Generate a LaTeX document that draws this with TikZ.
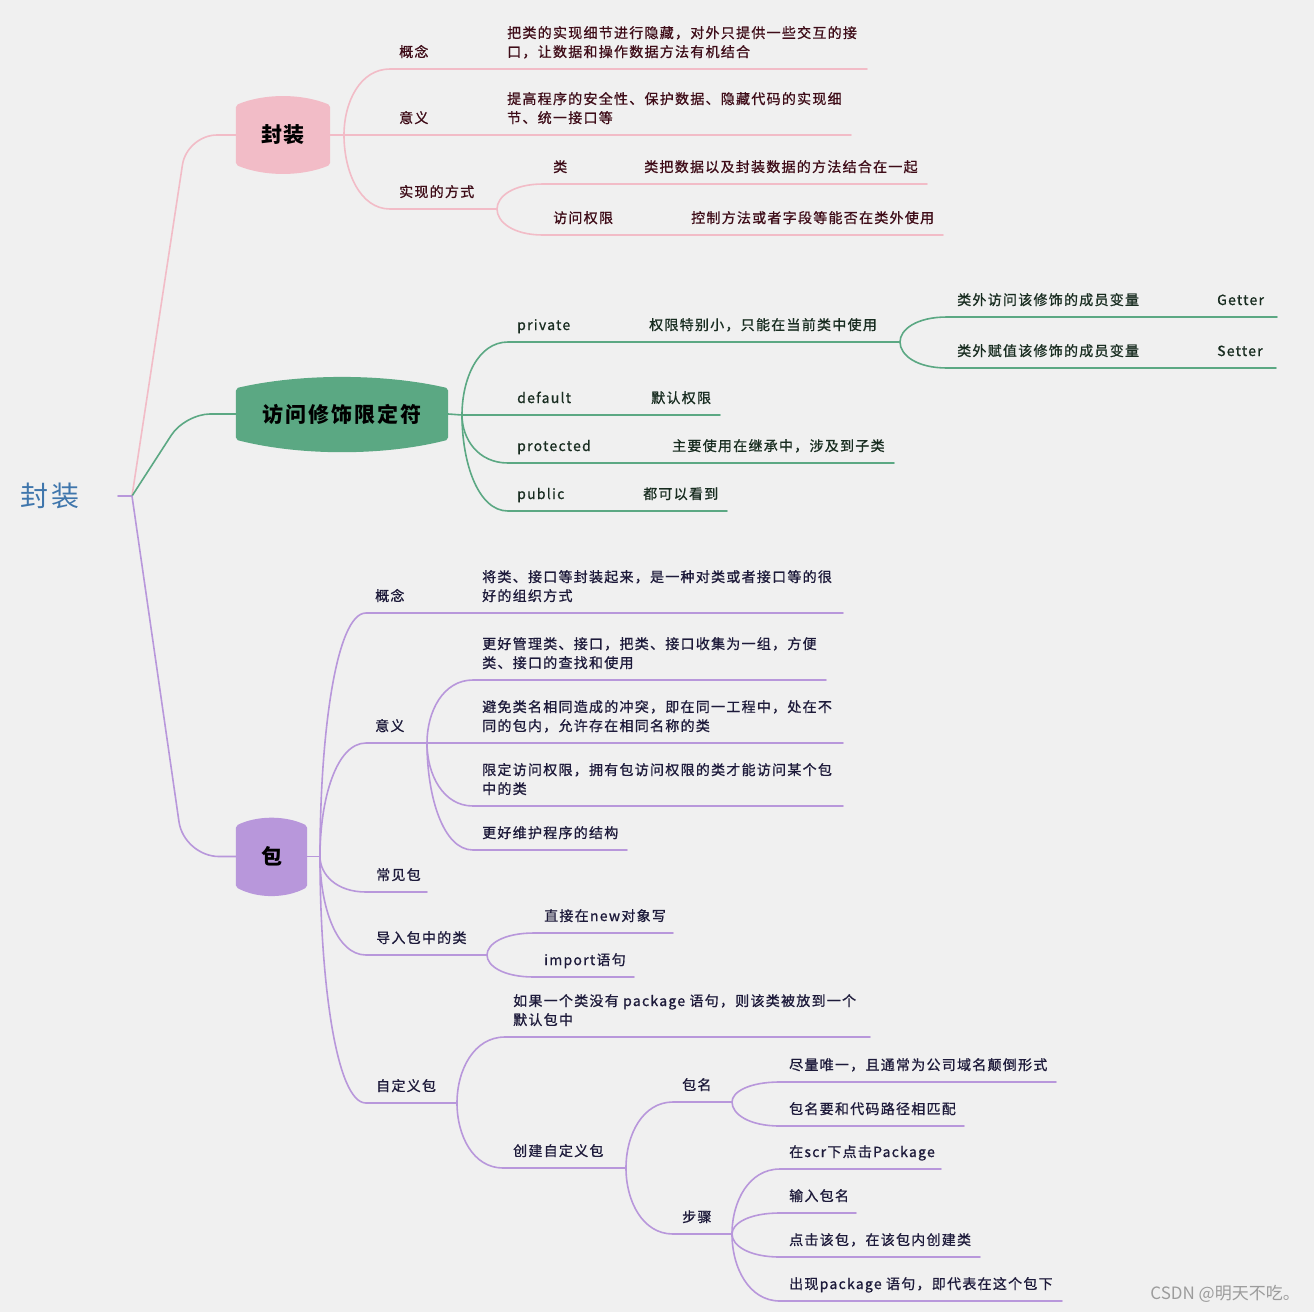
\documentclass[tikz,border=0pt]{standalone}
\usepackage{fontspec}
\usetikzlibrary{calc}
\newfontfamily\cjk[LetterSpace=9, FakeBold=0.9]{Noto Sans CJK SC}
\newfontfamily\cjkh[LetterSpace=9]{Noto Sans CJK SC}
\newfontfamily\wmfont{Noto Sans CJK SC}
\definecolor{bgc}{HTML}{F0F0F0}
\definecolor{pk}{HTML}{F2BCC7}
\definecolor{gr}{HTML}{5BA883}
\definecolor{pu}{HTML}{B897DB}
\definecolor{tpkc}{HTML}{3E0C18}
\definecolor{tgrc}{HTML}{182C20}
\definecolor{tpuc}{HTML}{1D1A3A}
\definecolor{rootc}{HTML}{3F76AC}
\definecolor{wmc}{HTML}{9C9C9C}
\pgfdeclarelayer{bgl}
\pgfdeclarelayer{blobl}
\pgfsetlayers{bgl,blobl,main}
\newcommand\ml[1]{\begin{tabular}[b]{@{}l@{}}#1\end{tabular}}
\newcommand\kid[4]{\draw[#1] (#2) .. controls ($(#2)!0.5!(#2 |- #3)$) and ($(#2 |- #3)!0.35!(#3)$) .. (#3) -- (#4);}
\newcommand\blob[4]{%
\begin{pgfonlayer}{blobl}
\fill[#2] ($(#1.north west)+(0,3)$) -- ($(#1.north west)+(2,0)$)
 .. controls ($(#1.north west)!0.3!(#1.north east)+(0,-#3)$) and ($(#1.north west)!0.7!(#1.north east)+(0,-#3)$) .. ($(#1.north east)+(-2,0)$)
 -- ($(#1.north east)+(0,3)$) -- ($(#1.south east)+(0,-3)$) -- ($(#1.south east)+(-2,0)$)
 .. controls ($(#1.south west)!0.7!(#1.south east)+(0,#4)$) and ($(#1.south west)!0.3!(#1.south east)+(0,#4)$) .. ($(#1.south west)+(2,0)$)
 -- ($(#1.south west)+(0,-3)$) -- cycle;
\end{pgfonlayer}}
\tikzset{
 lbl/.style={anchor=base west, inner sep=0pt, font=\cjk\fontsize{14}{19}\selectfont},
 tpk/.style={lbl, text=tpkc},
 tgr/.style={lbl, text=tgrc},
 tpu/.style={lbl, text=tpuc},
 hub/.style={inner sep=0pt, text=black, font=\cjkh\bfseries\fontsize{21}{24}\selectfont},
 pkl/.style={draw=pk, line width=1.6pt, line cap=round},
 grl/.style={draw=gr, line width=1.6pt, line cap=round},
 pul/.style={draw=pu, line width=1.6pt, line cap=round},
}
\begin{document}
\begin{tikzpicture}[x=1pt,y=-1pt]
\begin{pgfonlayer}{bgl}
\fill[bgc] (0,0) rectangle (1314,1312);
\end{pgfonlayer}
\useasboundingbox (0,0) rectangle (1314,1312);

% root
\node[inner sep=0pt, text=rootc, font=\cjkh\fontsize{28}{30}\selectfont] (root) at (50,496) {封装};
\coordinate (rs) at (118,496);
\coordinate (rf) at (132,496);
\draw[pul] (rs) -- (rf);

% hubs
\node[hub, minimum width=94pt, minimum height=61pt] (n1) at (283,135) {封装};
\node[hub, minimum width=212pt, minimum height=52pt] (n2) at (342,414) {访问修饰限定符};
\node[hub, minimum width=71pt, minimum height=63pt] (n3) at (271.5,856.5) {包};
\blob{n1}{pk}{11}{11}
\blob{n2}{gr}{14.5}{16}
\blob{n3}{pu}{9.5}{10.5}

\draw[pkl, rounded corners=30pt] (rf) -- (187,135) -- (n1.west);
\draw[grl, rounded corners=25pt] (rf) -- (185,414) -- (n2.west);
\draw[pul, rounded corners=35pt] (rf) -- (184,856.5) -- (n3.west);

% ---------- pink branch ----------
\coordinate (f1) at (344,135);
\draw[pkl] (n1.east) -- (f1);
\coordinate (p1s) at (390,69);  \coordinate (p1e) at (867,69);
\coordinate (p2e) at (851,135);
\coordinate (p3s) at (390,209); \coordinate (f2) at (497,209);
\coordinate (p31s) at (543,184); \coordinate (p31e) at (927,184);
\coordinate (p32s) at (543,235); \coordinate (p32e) at (943,235);
\kid{pkl}{f1}{p1s}{p1e}
\kid{pkl}{f1}{f1}{p2e}
\kid{pkl}{f1}{p3s}{f2}
\kid{pkl}{f2}{p31s}{p31e}
\kid{pkl}{f2}{p32s}{p32e}
\node[tpk] (pa) at (399,57) {概念};
\node[tpk] (pad) at (507,57) {\ml{把类的实现细节进行隐藏，对外只提供一些交互的接\\口，让数据和操作数据方法有机结合}};
\node[tpk] (pb) at (399,123) {意义};
\node[tpk] (pbd) at (507,123) {\ml{提高程序的安全性、保护数据、隐藏代码的实现细\\节、统一接口等}};
\node[tpk] (pc) at (399,197) {实现的方式};
\node[tpk] (pc1) at (553,172) {类};
\node[tpk] (pc1d) at (644,172) {类把数据以及封装数据的方法结合在一起};
\node[tpk] (pc2) at (553,223) {访问权限};
\node[tpk] (pc2d) at (691,223) {控制方法或者字段等能否在类外使用};

% ---------- green branch ----------
\coordinate (f3) at (462,415);
\draw[grl] (n2.east) -- (f3);
\coordinate (g1s) at (508,342); \coordinate (f4) at (900,342);
\coordinate (g11s) at (947,317); \coordinate (g11e) at (1277,317);
\coordinate (g12s) at (947,368); \coordinate (g12e) at (1276,368);
\coordinate (g2e) at (720,415);
\coordinate (g3s) at (508,463); \coordinate (g3e) at (894,463);
\coordinate (g4s) at (508,511); \coordinate (g4e) at (727,511);
\kid{grl}{f3}{g1s}{f4}
\kid{grl}{f4}{g11s}{g11e}
\kid{grl}{f4}{g12s}{g12e}
\kid{grl}{f3}{f3}{g2e}
\kid{grl}{f3}{g3s}{g3e}
\kid{grl}{f3}{g4s}{g4e}
\node[tgr] (ga) at (517,330) {private};
\node[tgr] (gad) at (649,330) {权限特别小，只能在当前类中使用};
\node[tgr] (ga1) at (957,305) {类外访问该修饰的成员变量};
\node[tgr] (ga1d) at (1217,305) {Getter};
\node[tgr] (ga2) at (957,356) {类外赋值该修饰的成员变量};
\node[tgr] (ga2d) at (1217,356) {Setter};
\node[tgr] (gb) at (517,403) {default};
\node[tgr] (gbd) at (651,403) {默认权限};
\node[tgr] (gc) at (517,451) {protected};
\node[tgr] (gcd) at (672,451) {主要使用在继承中，涉及到子类};
\node[tgr] (gd) at (517,499) {public};
\node[tgr] (gdd) at (643,499) {都可以看到};

% ---------- purple branch ----------
\coordinate (f5) at (320,856.5);
\draw[pul] (n3.east) -- (f5);
\coordinate (u1s) at (366,613); \coordinate (u1e) at (843,613);
\coordinate (u2s) at (366,743); \coordinate (f6) at (427,743);
\coordinate (u21s) at (473,680); \coordinate (u21e) at (826,680);
\coordinate (u22e) at (843,743);
\coordinate (u23s) at (473,806); \coordinate (u23e) at (843,806);
\coordinate (u24s) at (473,850); \coordinate (u24e) at (627,850);
\coordinate (u3s) at (366,892); \coordinate (u3e) at (427,892);
\coordinate (u4s) at (366,955); \coordinate (f7) at (487,955);
\coordinate (u41s) at (534,933); \coordinate (u41e) at (673,933);
\coordinate (u42s) at (534,977); \coordinate (u42e) at (634,977);
\coordinate (u5s) at (366,1103); \coordinate (f8) at (457,1103);
\coordinate (u51s) at (505,1037); \coordinate (u51e) at (870,1037);
\coordinate (u52s) at (503,1168); \coordinate (f9) at (626,1168);
\coordinate (u6s) at (673,1102); \coordinate (f10) at (732,1102);
\coordinate (u61s) at (780,1082); \coordinate (u61e) at (1056,1082);
\coordinate (u62s) at (780,1126); \coordinate (u62e) at (964,1126);
\coordinate (u7s) at (673,1234); \coordinate (f11) at (732,1234);
\coordinate (u71s) at (780,1169); \coordinate (u71e) at (941,1169);
\coordinate (u72s) at (780,1213); \coordinate (u72e) at (856,1213);
\coordinate (u73s) at (780,1257); \coordinate (u73e) at (980,1257);
\coordinate (u74s) at (780,1301); \coordinate (u74e) at (1062,1301);
\kid{pul}{f5}{u1s}{u1e}
\kid{pul}{f5}{u2s}{f6}
\kid{pul}{f6}{u21s}{u21e}
\kid{pul}{f6}{f6}{u22e}
\kid{pul}{f6}{u23s}{u23e}
\kid{pul}{f6}{u24s}{u24e}
\kid{pul}{f5}{u3s}{u3e}
\kid{pul}{f5}{u4s}{f7}
\kid{pul}{f7}{u41s}{u41e}
\kid{pul}{f7}{u42s}{u42e}
\kid{pul}{f5}{u5s}{f8}
\kid{pul}{f8}{u51s}{u51e}
\kid{pul}{f8}{u52s}{f9}
\kid{pul}{f9}{u6s}{f10}
\kid{pul}{f10}{u61s}{u61e}
\kid{pul}{f10}{u62s}{u62e}
\kid{pul}{f9}{u7s}{f11}
\kid{pul}{f11}{u71s}{u71e}
\kid{pul}{f11}{u72s}{u72e}
\kid{pul}{f11}{u73s}{u73e}
\kid{pul}{f11}{u74s}{u74e}
\node[tpu] (ua) at (375,601) {概念};
\node[tpu] (uad) at (482,601) {\ml{将类、接口等封装起来，是一种对类或者接口等的很\\好的组织方式}};
\node[tpu] (ub) at (375,731) {意义};
\node[tpu] (ub1) at (482,668) {\ml{更好管理类、接口，把类、接口收集为一组，方便\\类、接口的查找和使用}};
\node[tpu] (ub2) at (482,731) {\ml{避免类名相同造成的冲突，即在同一工程中，处在不\\同的包内，允许存在相同名称的类}};
\node[tpu] (ub3) at (482,794) {\ml{限定访问权限，拥有包访问权限的类才能访问某个包\\中的类}};
\node[tpu] (ub4) at (482,838) {更好维护程序的结构};
\node[tpu] (uc) at (376,880) {常见包};
\node[tpu] (ud) at (376,943) {导入包中的类};
\node[tpu] (ud1) at (544,921) {直接在new对象写};
\node[tpu] (ud2) at (544,965) {import语句};
\node[tpu] (ue) at (376,1091) {自定义包};
\node[tpu] (ue1) at (513,1025) {\ml{如果一个类没有 package 语句，则该类被放到一个\\默认包中}};
\node[tpu] (ue2) at (513,1156) {创建自定义包};
\node[tpu] (uf) at (682,1090) {包名};
\node[tpu] (uf1) at (789,1070) {尽量唯一，且通常为公司域名颠倒形式};
\node[tpu] (uf2) at (789,1114) {包名要和代码路径相匹配};
\node[tpu] (ug) at (682,1222) {步骤};
\node[tpu] (ug1) at (789,1157) {在scr下点击Package};
\node[tpu] (ug2) at (789,1201) {输入包名};
\node[tpu] (ug3) at (789,1245) {点击该包，在该包内创建类};
\node[tpu] (ug4) at (789,1289) {出现package 语句，即代表在这个包下};

% watermark
\node[anchor=base east, inner sep=0pt, text=wmc, font=\wmfont\fontsize{17}{20}\selectfont] (wm) at (1300,1299) {CSDN @明天不吃。};
\end{tikzpicture}
\end{document}
